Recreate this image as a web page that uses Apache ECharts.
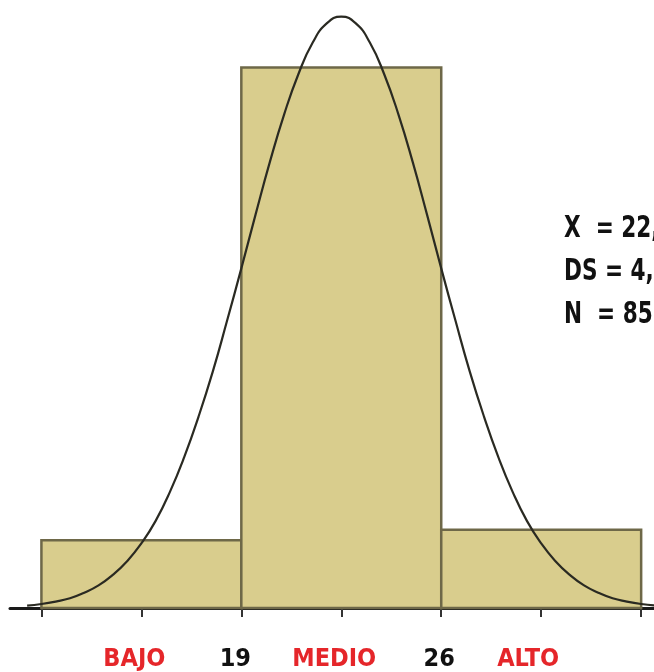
<!DOCTYPE html>
<html>
<head>
<meta charset="utf-8">
<script src="https://cdn.jsdelivr.net/npm/echarts@6/dist/echarts.min.js"></script>
<style>
  html, body { margin: 0; padding: 0; background: #fff; }
  #main { width: 654px; height: 672px; }
</style>
</head>
<body>
<div id="main"></div>
<script>
// 区间边界 (puntaje) y frecuencias
var binStart = [12, 19, 26];
var binEnd = [19, 26, 33];
var counts = [8.4, 67, 9.7];

// etiquetas del eje x
var tickValues = [12, 15.5, 19, 22.5, 26, 29.5, 33];
var labelValues = [15.5, 19, 22.5, 26, 29.5];
var labelTexts = ['BAJO', '19', 'MEDIO', '26', 'ALTO'];

// curva normal
var curveX = [11.5, 12, 12.5, 13, 13.5, 14, 14.5, 15, 15.5, 16, 16.5, 17, 17.5, 18, 18.5, 19, 19.5, 20, 20.5, 21, 21.5, 22,
    22.5, 23, 23.5, 24, 24.5, 25, 25.5, 26, 26.5, 27, 27.5, 28, 28.5, 29, 29.5, 30, 30.5, 31, 31.5, 32, 32.5, 33, 33.5];
var curveY = [0.3, 0.5, 0.8, 1.2, 1.9, 2.8, 4.1, 5.8, 8.0, 10.8, 14.4, 18.7, 23.7, 29.3, 35.6, 42.1, 48.8, 55.3, 61.2, 66.2, 70.1, 72.5,
    73.3, 72.5, 70.1, 66.2, 61.2, 55.3, 48.8, 42.1, 35.6, 29.3, 23.7, 18.7, 14.4, 10.8, 8.0, 5.8, 4.1, 2.8, 1.9, 1.2, 0.8, 0.5, 0.3];

// texto de estadísticos
var statLines = ['X  = 22,4', 'DS = 4,2', 'N  = 85'];

var bars = [];
for (var i = 0; i < counts.length; i++) {
    bars.push([binStart[i], binEnd[i], counts[i]]);
}
var curve = [];
for (var j = 0; j < curveX.length; j++) {
    curve.push([curveX[j], curveY[j]]);
}

var FONT = '"DejaVu Sans Condensed", "Liberation Sans Narrow", sans-serif';
// desplazamiento (px) de cada etiqueta hacia la izquierda
var shiftLeft = [7, 6, 7, 2, 13];

var rich = {};
for (var r = 0; r < labelTexts.length; r++) {
    var isWord = isNaN(Number(labelTexts[r]));
    rich['l' + r] = {
        color: isWord ? '#e5262a' : '#111',
        fontFamily: FONT,
        fontWeight: 'bold',
        fontSize: 25,
        padding: [0, shiftLeft[r] * 2, 0, 0]
    };
}

var myChart = echarts.init(document.getElementById('main'));

var option = {
    animation: false,
    backgroundColor: '#fff',
    grid: {
        left: 10,
        right: 0,
        top: 3,
        bottom: 64
    },
    xAxis: {
        type: 'value',
        min: 10.9,
        max: 33.45,
        splitLine: { show: false },
        axisLine: {
            lineStyle: { color: '#1a1a1a', width: 3 }
        },
        axisTick: {
            show: true,
            customValues: tickValues,
            length: 9,
            lineStyle: { color: '#333', width: 2 }
        },
        axisLabel: {
            customValues: labelValues,
            margin: 39,
            fontFamily: FONT,
            fontWeight: 'bold',
            fontSize: 25,
            formatter: function (v) {
                var k = labelValues.indexOf(v);
                return k >= 0 ? '{l' + k + '|' + labelTexts[k] + '}' : '';
            },
            rich: rich
        }
    },
    yAxis: {
        type: 'value',
        min: 0,
        max: 75,
        show: false
    },
    graphic: statLines.map(function (s, k) {
        return {
            type: 'text',
            x: 564,
            y: 214 + k * 43,
            scaleX: 0.8,
            style: {
                text: s,
                fill: '#111',
                font: 'bold 30px ' + FONT
            }
        };
    }),
    series: [{
        type: 'custom',
        data: bars,
        z: 1,
        renderItem: function (params, api) {
            var p0 = api.coord([api.value(0), api.value(2)]);
            var p1 = api.coord([api.value(1), 0]);
            return {
                type: 'rect',
                shape: { x: p0[0], y: p0[1], width: p1[0] - p0[0], height: p1[1] - p0[1] },
                style: {
                    fill: '#d9cd8d',
                    stroke: '#6e6848',
                    lineWidth: 2.5
                }
            };
        }
    }, {
        type: 'line',
        data: curve,
        smooth: true,
        symbol: 'none',
        z: 3,
        lineStyle: {
            color: '#2a2a22',
            width: 2.2
        }
    }]
};

myChart.setOption(option);
</script>
</body>
</html>
